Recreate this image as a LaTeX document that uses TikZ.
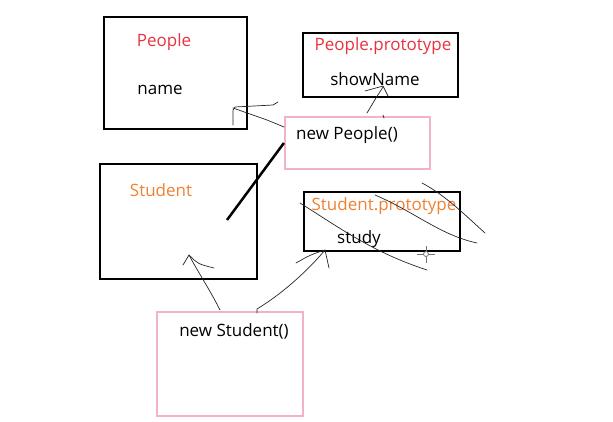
\documentclass[tikz,border=0pt]{standalone}
\usepackage{fontspec}
\setmainfont{Open Sans}
\definecolor{rosa}{RGB}{244,178,198}
\definecolor{rosso}{RGB}{232,50,62}
\definecolor{arancio}{RGB}{240,128,50}
\tikzset{
    oggetto/.style={draw=black, line width=2.8pt, inner sep=0pt},
    istanza/.style={draw=rosa, line width=2.2pt, inner sep=0pt},
    testo/.style={font=\fontsize{17}{20}\selectfont, inner sep=0pt, yshift=-2pt},
    tratto/.style={black!85, line width=0.7pt, line cap=round, line join=round}
}
\begin{document}
\begin{tikzpicture}[x=1pt,y=-1pt]
        \useasboundingbox (0,0) rectangle (613,421);

        % scatole
        \node[oggetto, minimum width=143pt, minimum height=112pt] (people) at (175.5,73) {};
        \node[oggetto, minimum width=155pt, minimum height=64pt] (peopleproto) at (380.5,65) {};
        \node[istanza, minimum width=145pt, minimum height=52pt] (newpeople) at (357.5,143) {};
        \node[oggetto, minimum width=157pt, minimum height=115pt] (student) at (178.5,221.5) {};
        \node[oggetto, minimum width=156pt, minimum height=59pt] (studentproto) at (382,221.5) {};
        \node[istanza, minimum width=146pt, minimum height=104pt] (newstudent) at (230,364) {};

        % testi
        \node[testo, text=rosso] (peoplename) at (164,40) {People};
        \node[testo] (name) at (160,88) {name};
        \node[testo, text=rosso] (protoname) at (383,44) {People.prototype};
        \node[testo] (showname) at (375,77) {showName};
        \node[testo] (newpeoplename) at (347,133) {new People()};
        \node[testo, text=arancio] (studentname) at (161,188) {Student};
        \node[testo, text=arancio] (sprotoname) at (384,204) {Student.prototype};
        \node[testo] (study) at (359,237) {study};
        \node[testo] (newstudentname) at (234,329) {new Student()};

        % linea spessa
        \draw[line width=2.5pt] (newpeople.west) -- (227,220);

        % freccia verso People
        \draw[tratto] (233,125) -- (233,110) -- (235,107) -- (273,105) -- (278,102);
        \draw[tratto] (233,108) -- (267,120) -- (284,127);

        % freccia verso showName
        \draw[tratto] (367,113) -- (376,98) -- (383,87);
        \draw[tratto] (365,91) -- (383,86) -- (388,96);
        \draw[tratto] (383,115) -- (384,118);

        % frecce da new Student()
        \draw[tratto] (220,310) .. controls (210,290) and (198,272) .. (189,255);
        \draw[tratto] (183,265) -- (189,255) .. controls (198,264) .. (214,268);
        \draw[tratto] (257,313) -- (257,309) .. controls (285,292) and (310,268) .. (325,250);
        \draw[tratto] (296,263) .. controls (310,255) .. (325,250) -- (329,268);

        % scarabocchi
        \draw[tratto] (422,183) .. controls (445,195) and (465,215) .. (485,233);
        \draw[tratto] (375,195) .. controls (415,212) and (440,235) .. (477,243);
        \draw[tratto] (300,203) .. controls (340,228) and (372,252) .. (427,270);

        % cursore
        \begin{scope}[shift={(426,254)}, black!55, line width=0.8pt]
            \draw (-9,0) -- (9,0);
            \draw (0,-8) -- (0,9);
            \draw[fill=white] (0,0) circle (2.5);
        \end{scope}
    \end{tikzpicture}
\end{document}
